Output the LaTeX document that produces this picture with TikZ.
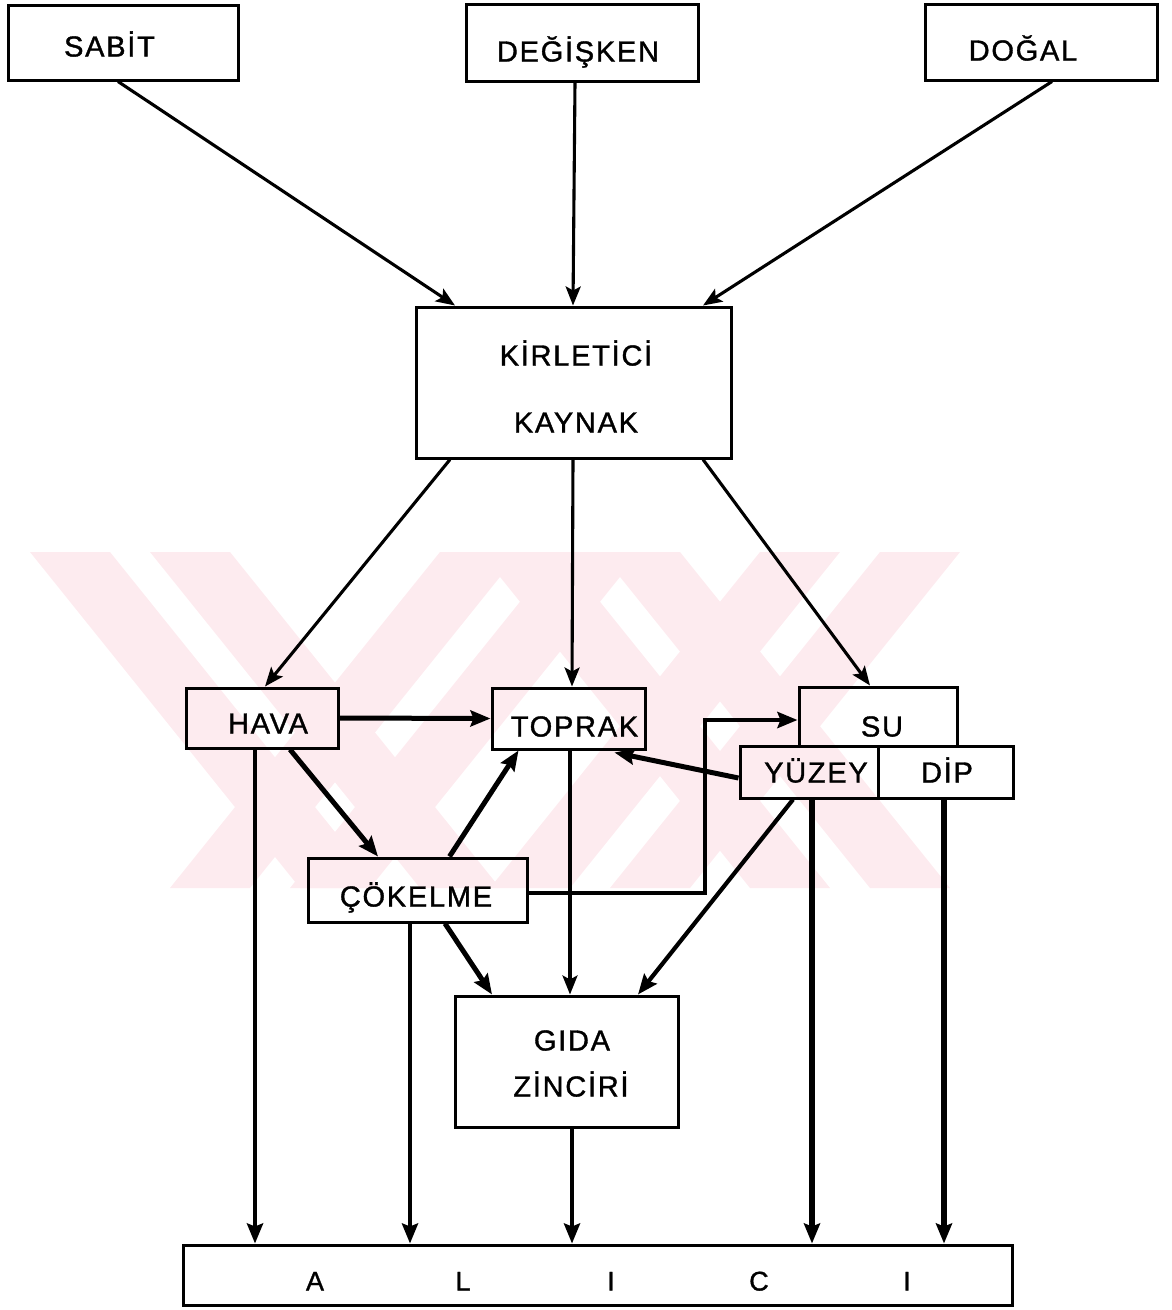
\documentclass[tikz,border=0pt]{standalone}
\usepackage{fontspec}
\setmainfont{Liberation Sans}[LetterSpace=6,FakeBold=1.2]
\usetikzlibrary{arrows.meta}
\definecolor{wm}{RGB}{253,235,239}
\begin{document}
\begin{tikzpicture}[x=1pt,y=-1pt,
  box/.style={draw, line width=3pt, inner sep=0pt},
  lbl/.style={inner sep=0pt, text height=21pt, text depth=0pt,
    font=\fontsize{29}{32}\selectfont},
  thinarr/.style={line width=3.1pt, -{Stealth[length=19pt,width=15pt,inset=4pt]}},
  thickarr/.style={line width=5pt, -{Stealth[length=20pt,width=16pt,inset=3pt]}},
  wmstripe/.style={fill=wm}]
\path[use as bounding box] (0,0) rectangle (1171,1310);
% watermark
\begin{scope}
\clip (30,552) rectangle (960,888);
\foreach \a in {30,150,480,600}
  \fill[wmstripe] (\a,552) -- (\a+80,552) -- (\a+350,888) -- (\a+270,888) -- cycle;
\foreach \a in {440,560,760,880}
  \fill[wmstripe] (\a,552) -- (\a+80,552) -- (\a-190,888) -- (\a-270,888) -- cycle;
\end{scope}
% nodes
\node[box, minimum width=230pt, minimum height=75pt,
  label={[lbl, xshift=-13.5pt, yshift=-3.5pt]center:SABİT}] (sabit) at (123,42.5) {};
\node[box, minimum width=232pt, minimum height=77pt,
  label={[lbl, xshift=-4pt, yshift=-8.5pt]center:DEĞİŞKEN}] (degisken) at (582,42.5) {};
\node[box, minimum width=232pt, minimum height=76pt,
  label={[lbl, xshift=-18pt, yshift=-8pt]center:DOĞAL}] (dogal) at (1041,42) {};
\node[box, minimum width=315pt, minimum height=151pt,
  label={[lbl, xshift=2.5pt, yshift=27.5pt]center:KİRLETİCİ},
  label={[lbl, xshift=2.5pt, yshift=-39.5pt]center:KAYNAK}] (kaynak) at (573.5,382.5) {};
\node[box, minimum width=152pt, minimum height=60pt,
  label={[lbl, xshift=6pt, yshift=-5pt]center:HAVA}] (hava) at (262,718) {};
\node[box, minimum width=153pt, minimum height=61pt,
  label={[lbl, xshift=6pt, yshift=-7.5pt]center:TOPRAK}] (toprak) at (568.5,718.5) {};
\node[box, minimum width=158pt, minimum height=59pt,
  label={[lbl, xshift=4pt, yshift=-9.5pt]center:SU}] (su) at (878,716.5) {};
\node[box, minimum width=138pt, minimum height=52pt,
  label={[lbl, xshift=7pt, yshift=0pt]center:YÜZEY}] (yuzey) at (809,772) {};
\node[box, minimum width=135pt, minimum height=52pt,
  label={[lbl, xshift=1.5pt, yshift=0pt]center:DİP}] (dip) at (945.5,772) {};
\node[box, minimum width=219pt, minimum height=64pt,
  label={[lbl, xshift=-1.5pt, yshift=-6pt]center:ÇÖKELME}] (cokelme) at (417.5,890) {};
\node[box, minimum width=223pt, minimum height=131pt,
  label={[lbl, xshift=5.5pt, yshift=21.5pt]center:GIDA},
  label={[lbl, xshift=4.5pt, yshift=-24.5pt]center:ZİNCİRİ}] (gida) at (566.5,1061.5) {};
\node[box, minimum width=829pt, minimum height=60pt,
  label={[lbl, font=\fontsize{27}{30}\selectfont, xshift=13.5pt, yshift=-5pt]center:{\makebox[148pt]{A}\makebox[148pt]{L}\makebox[148pt]{I}\makebox[148pt]{C}\makebox[148pt]{I}}}] (alici) at (597.5,1275) {};
% connectors: sources to kaynak
\draw[thinarr] ([xshift=-5pt]sabit.south) -- ([xshift=-118.5pt]kaynak.north);
\draw[thinarr] ([xshift=-7pt]degisken.south) -- ([xshift=-0.5pt]kaynak.north);
\draw[thinarr] ([xshift=11pt]dogal.south) -- ([xshift=129.5pt]kaynak.north);
% kaynak to media
\draw[thinarr] ([xshift=-123.5pt]kaynak.south) -- ([xshift=3pt]hava.north);
\draw[thinarr] ([xshift=-0.5pt]kaynak.south) -- ([xshift=3.5pt]toprak.north);
\draw[thinarr] ([xshift=129.5pt]kaynak.south) -- ([xshift=-8pt]su.north);
% between media
\draw[thickarr] (hava.east) -- (toprak.west);
\draw[thickarr] ([xshift=28pt]hava.south) -- ([xshift=-39.5pt]cokelme.north);
\draw[thickarr] ([xshift=32pt]cokelme.north) -- ([xshift=-50pt]toprak.south);
\draw[thickarr] ([yshift=-6pt]yuzey.west) -- ([xshift=-32pt,yshift=-2pt]toprak.south east);
\draw[thickarr, line width=4.2pt] ([yshift=-3pt]cokelme.east) -- (705,893) |- ([yshift=-3.5pt]su.west);
% to gida
\draw[thinarr] ([xshift=1.5pt]toprak.south) -- ([xshift=1.5pt]toprak.south |- gida.north);
\draw[thickarr] ([xshift=27.5pt]cokelme.south) -- ([xshift=-74.5pt]gida.north);
\draw[thickarr, line width=4.2pt] ([xshift=-16pt]yuzey.south) -- ([xshift=71.5pt]gida.north);
% to alici
\draw[thickarr, line width=4.2pt] ([xshift=-7pt]hava.south) -- ([xshift=-7pt]hava.south |- alici.north);
\draw[thickarr, line width=4pt] ([xshift=-7.5pt]cokelme.south) -- ([xshift=-7.5pt]cokelme.south |- alici.north);
\draw[thickarr, line width=4pt] ([xshift=5.5pt]gida.south) -- ([xshift=5.5pt]gida.south |- alici.north);
\draw[thickarr, line width=5.4pt] ([xshift=3pt]yuzey.south) -- ([xshift=3pt]yuzey.south |- alici.north);
\draw[thickarr, line width=5.4pt] ([xshift=-1.5pt]dip.south) -- ([xshift=-1.5pt]dip.south |- alici.north);
\end{tikzpicture}
\end{document}
